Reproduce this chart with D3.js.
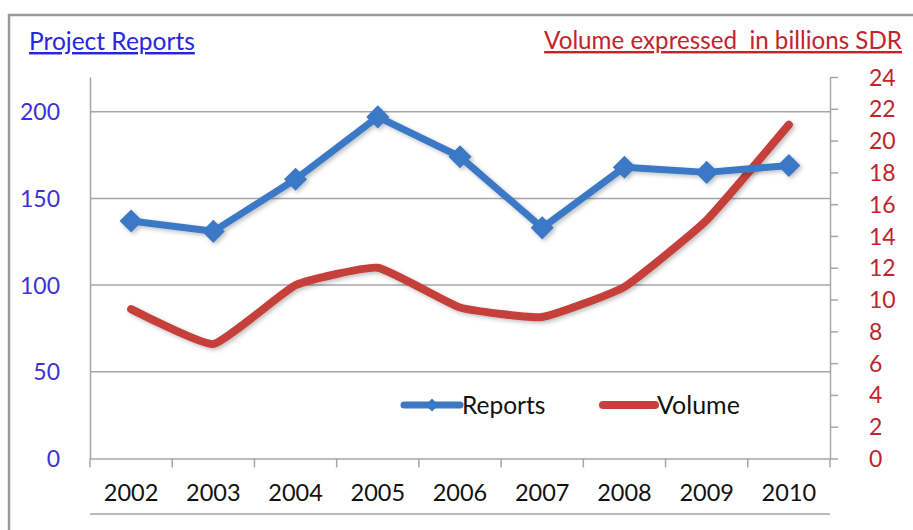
<!DOCTYPE html>
<html><head><meta charset="utf-8">
<script src="https://cdn.jsdelivr.net/npm/d3@7"></script>
<style>body{margin:0;background:#fff}svg{display:block}text{font-family:Lato,"Open Sans",sans-serif}</style>
</head><body><svg id="c" width="913" height="530"></svg>
<script>
const years = ["2002","2003","2004","2005","2006","2007","2008","2009","2010"];
const reports = [137,131,161,197,174,133,168,165,169];
const volume = [9.4,7.2,10.9,12.0,9.5,8.9,10.8,15.0,21.0];
const leftTicks = [0,50,100,150,200];
const rightTicks = [0,2,4,6,8,10,12,14,16,18,20,22,24];

const svg = d3.select("#c");
const L=90, R=830, T=77, B=458.5;
const blue="#3b78c6", red="#c63f3b", grid="#a6a6a6";

const defs = svg.append("defs");
const f = defs.append("filter").attr("id","sh").attr("x","-10%").attr("y","-10%").attr("width","130%").attr("height","130%");
f.append("feDropShadow").attr("dx",2).attr("dy",2).attr("stdDeviation",2).attr("flood-color","#000").attr("flood-opacity",0.25);

// frame
svg.append("path").attr("d","M9,530 V15 H913").attr("fill","none").attr("stroke","#9a9a9a").attr("stroke-width",2.5);

const x = d3.scaleBand().domain(years).range([L,R]).padding(0);
const yL = d3.scaleLinear().domain([0,220]).range([B,T]);
const yR = d3.scaleLinear().domain([0,24]).range([B,T]);
const cx = d => x(d)+x.bandwidth()/2;

// gridlines
svg.append("g").selectAll("line").data(leftTicks.slice(1)).join("line")
  .attr("x1",L).attr("x2",R).attr("y1",d=>yL(d)).attr("y2",d=>yL(d))
  .attr("stroke",grid).attr("stroke-width",1.5);

// left axis
const gl = svg.append("g").attr("transform",`translate(${L},0)`)
  .call(d3.axisLeft(yL).tickValues(leftTicks).tickSize(0).tickPadding(30));
gl.select(".domain").attr("stroke",grid).attr("stroke-width",1.5);
gl.selectAll("text").attr("fill","#3c32d2").style("font-size","23px").attr("dy","0.35em");

// right axis
const gr = svg.append("g").attr("transform",`translate(${R},0)`)
  .call(d3.axisRight(yR).tickValues(rightTicks).tickSize(8).tickSizeOuter(0).tickPadding(31));
gr.select(".domain").attr("stroke",grid).attr("stroke-width",1.5);
gr.selectAll(".tick line").attr("stroke",grid).attr("stroke-width",1.5);
gr.selectAll("text").attr("fill","#c0242c").style("font-size","23px").attr("dy","0.35em");

// bottom axis
const gb = svg.append("g").attr("transform",`translate(0,${B})`)
  .call(d3.axisBottom(x).tickSize(0).tickPadding(26));
gb.select(".domain").attr("stroke",grid).attr("stroke-width",1.5);
gb.selectAll("text").attr("fill","#111").style("font-size","23.5px");
// category boundary ticks
svg.append("g").selectAll("line").data(years.concat(["end"])).join("line")
  .attr("x1",(d,i)=>L+i*x.bandwidth()).attr("x2",(d,i)=>L+i*x.bandwidth())
  .attr("y1",B).attr("y2",B+9).attr("stroke",grid).attr("stroke-width",1.5);
svg.append("line").attr("x1",L).attr("x2",R).attr("y1",514).attr("y2",514).attr("stroke",grid).attr("stroke-width",1.5);

// volume line
svg.append("path").datum(volume)
  .attr("d",d3.line().x((d,i)=>cx(years[i])).y(d=>yR(d)).curve(d3.curveCardinal.tension(0.6)))
  .attr("fill","none").attr("stroke",red).attr("stroke-width",8).attr("stroke-linecap","round").attr("filter","url(#sh)");

// reports line
const gRep = svg.append("g").attr("filter","url(#sh)");
gRep.append("path").datum(reports)
  .attr("d",d3.line().x((d,i)=>cx(years[i])).y(d=>yL(d)))
  .attr("fill","none").attr("stroke",blue).attr("stroke-width",7).attr("stroke-linejoin","round");
const diamond = d3.symbol().type(d3.symbolDiamond2).size(340);
gRep.selectAll("path.m").data(reports).join("path").attr("class","m")
  .attr("d",diamond).attr("transform",(d,i)=>`translate(${cx(years[i])},${yL(d)})`)
  .attr("fill",blue);

// legend
const lg = svg.append("g");
lg.append("line").attr("x1",404).attr("x2",460).attr("y1",405).attr("y2",405).attr("stroke",blue).attr("stroke-width",7).attr("stroke-linecap","round");
lg.append("path").attr("d",d3.symbol().type(d3.symbolDiamond2).size(110)).attr("transform","translate(432,405)").attr("fill",blue);
lg.append("text").attr("x",462).attr("y",414).text("Reports").attr("fill","#111").style("font-size","24.5px");
lg.append("line").attr("x1",603).attr("x2",655).attr("y1",405).attr("y2",405).attr("stroke",red).attr("stroke-width",8).attr("stroke-linecap","round");
lg.append("text").attr("x",657).attr("y",414).text("Volume").attr("fill","#111").style("font-size","25px");

// titles
svg.append("text").attr("x",29).attr("y",50).text("Project Reports")
  .attr("fill","#2626dc").style("font-size","24.5px").style("text-decoration","underline");
svg.append("text").attr("x",902).attr("y",49).attr("text-anchor","end").text("Volume expressed\u00a0 in billions SDR")
  .attr("fill","#c0242c").style("font-size","24.2px").style("text-decoration","underline");
</script></body></html>
